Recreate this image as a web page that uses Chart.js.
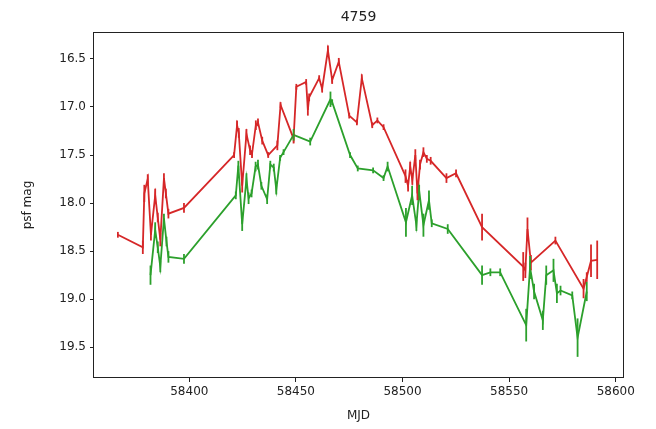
<!DOCTYPE html>
<html>
<head>
<meta charset="utf-8">
<script src="https://cdn.jsdelivr.net/npm/chart.js@4/dist/chart.umd.min.js"></script>
<style>
  html, body { margin: 0; padding: 0; background: #fff; }
  #wrap { width: 656px; height: 429px; }
</style>
</head>
<body>
<div id="wrap"><canvas id="lc" width="656" height="429"></canvas></div>
<script>
// light curve of object 4759, two bands
const title = "4759";

const mjdR = [58366.5, 58378.2, 58378.9, 58380.5, 58382.0, 58384.0, 58385.2, 58386.4, 58388.1, 58389.0, 58390.2, 58397.5,
    58421.0, 58422.4, 58423.2, 58424.8, 58426.8, 58428.5, 58429.4, 58431.2, 58432.2, 58434.2, 58437.0, 58441.3, 58442.8,
    58448.9, 58450.2, 58454.8, 58455.6, 58456.2, 58460.9, 58462.3, 58465.0, 58467.0, 58470.1, 58475.0, 58478.6, 58480.9,
    58485.8, 58488.2, 58491.1, 58501.4, 58502.6, 58503.6, 58504.6, 58506.0, 58507.0, 58508.2, 58509.8, 58511.4, 58513.2,
    58520.6, 58525.1, 58537.3, 58556.6, 58557.6, 58558.6, 58560.2, 58571.7, 58584.9, 58586.4, 58588.4, 58591.3];
const magR = [18.33, 18.46, 17.90, 17.75, 18.33, 17.92, 18.15, 18.38, 17.74, 17.90, 18.11, 18.05,
    17.50, 17.19, 17.27, 17.82, 17.28, 17.45, 17.49, 17.19, 17.16, 17.35, 17.50, 17.40, 16.98,
    17.33, 16.79, 16.74, 17.03, 16.90, 16.70, 16.81, 16.41, 16.72, 16.53, 17.09, 17.16, 16.70,
    17.19, 17.14, 17.21, 17.72, 17.82, 17.62, 17.76, 17.50, 17.90, 17.60, 17.47, 17.54, 17.56,
    17.74, 17.69, 18.25, 18.66, 18.70, 18.27, 18.62, 18.39, 18.89, 18.77, 18.60, 18.59];
const errR = [0.03, 0.07, 0.09, 0.05, 0.06, 0.07, 0.05, 0.07, 0.05, 0.05, 0.05, 0.05,
    0.03, 0.05, 0.05, 0.07, 0.05, 0.05, 0.04, 0.05, 0.04, 0.04, 0.03, 0.05, 0.03,
    0.05, 0.03, 0.03, 0.06, 0.04, 0.03, 0.04, 0.05, 0.04, 0.04, 0.03, 0.03, 0.04,
    0.03, 0.03, 0.03, 0.07, 0.06, 0.05, 0.05, 0.06, 0.07, 0.05, 0.05, 0.04, 0.04,
    0.05, 0.04, 0.14, 0.15, 0.08, 0.12, 0.08, 0.04, 0.10, 0.05, 0.17, 0.20];

const mjdG = [58381.8, 58384.0, 58385.2, 58386.4, 58388.1, 58389.3, 58390.2, 58397.5,
    58421.8, 58423.0, 58424.8, 58426.8, 58427.8, 58429.2, 58431.1, 58432.2, 58433.8, 58436.5, 58438.0, 58439.6,
    58440.8, 58442.6, 58444.2, 58448.9, 58456.7, 58466.2, 58467.0, 58475.4, 58479.0, 58486.2, 58491.1, 58493.0,
    58501.6, 58504.5, 58506.5, 58507.8, 58509.8, 58512.4, 58513.7, 58521.2, 58537.3, 58541.2, 58545.8,
    58558.0, 58559.8, 58561.7, 58565.8, 58567.4, 58570.8, 58572.4, 58574.1, 58579.6, 58582.1, 58586.4];
const magG = [18.75, 18.28, 18.46, 18.66, 18.16, 18.40, 18.56, 18.58,
    17.92, 17.61, 18.22, 17.75, 17.95, 17.90, 17.62, 17.60, 17.82, 17.96, 17.60, 17.63,
    17.86, 17.53, 17.47, 17.29, 17.36, 16.92, 16.95, 17.50, 17.64, 17.66, 17.74, 17.62,
    18.20, 17.92, 18.23, 17.87, 18.23, 17.97, 18.21, 18.27, 18.75, 18.72, 18.72,
    19.27, 18.67, 18.92, 19.22, 18.75, 18.70, 18.94, 18.91, 18.96, 19.40, 18.92];
const errG = [0.10, 0.08, 0.06, 0.06, 0.05, 0.05, 0.06, 0.05,
    0.04, 0.05, 0.07, 0.06, 0.06, 0.04, 0.05, 0.05, 0.04, 0.05, 0.04, 0.04,
    0.05, 0.03, 0.03, 0.06, 0.04, 0.08, 0.03, 0.03, 0.03, 0.03, 0.03, 0.05,
    0.15, 0.10, 0.06, 0.06, 0.12, 0.10, 0.04, 0.05, 0.10, 0.04, 0.04,
    0.17, 0.12, 0.08, 0.10, 0.10, 0.12, 0.10, 0.05, 0.04, 0.20, 0.10];

const xTicks = [58400, 58450, 58500, 58550, 58600];
const yTicks = [16.5, 17.0, 17.5, 18.0, 18.5, 19.0, 19.5];

const RED = '#d62728';
const GREEN = '#2ca02c';
const FONT = "'DejaVu Sans', sans-serif";

function pts(xs, ys) {
    return xs.map((x, i) => ({ x: x, y: ys[i] }));
}

// vertical error bars, drawn through the scales
const errorBars = {
    id: 'errorBars',
    afterDatasetsDraw(chart) {
        const ctx = chart.ctx;
        const yScale = chart.scales.y;
        const area = chart.chartArea;
        ctx.save();
        ctx.beginPath();
        ctx.rect(area.left, area.top, area.right - area.left, area.bottom - area.top);
        ctx.clip();
        // red first, green on top
        [1, 0].forEach(di => {
            const ds = chart.data.datasets[di];
            const meta = chart.getDatasetMeta(di);
            ctx.strokeStyle = ds.borderColor;
            ctx.lineWidth = 1.8;
            meta.data.forEach((pt, i) => {
                const v = ds.data[i].y;
                const e = ds.errs[i];
                ctx.beginPath();
                ctx.moveTo(pt.x, yScale.getPixelForValue(v - e));
                ctx.lineTo(pt.x, yScale.getPixelForValue(v + e));
                ctx.stroke();
            });
        });
        ctx.restore();
    }
};

// matplotlib-like frame and a title centred over the axes
const frame = {
    id: 'frame',
    afterDraw(chart) {
        const a = chart.chartArea;
        const ctx = chart.ctx;
        ctx.save();
        ctx.strokeStyle = '#222';
        ctx.lineWidth = 1;
        ctx.strokeRect(Math.round(a.left) - 0.5, Math.round(a.top) + 0.5,
            Math.round(a.right - a.left) + 1, Math.round(a.bottom - a.top) - 1);
        ctx.fillStyle = '#222';
        ctx.font = "14px " + FONT;
        ctx.textAlign = 'center';
        ctx.textBaseline = 'middle';
        ctx.fillText(title, (a.left + a.right) / 2, 17);
        ctx.restore();
    }
};

const ctx = document.getElementById('lc').getContext('2d');
new Chart(ctx, {
    type: 'line',
    data: {
        datasets: [
            { label: 'g', data: pts(mjdG, magG), errs: errG, borderColor: GREEN, borderWidth: 1.8,
              pointRadius: 0, tension: 0, fill: false },
            { label: 'r', data: pts(mjdR, magR), errs: errR, borderColor: RED, borderWidth: 1.8,
              pointRadius: 0, tension: 0, fill: false }
        ]
    },
    options: {
        responsive: false,
        animation: false,
        layout: { padding: { left: 0, right: 33, top: 32, bottom: 0 } },
        plugins: {
            legend: { display: false },
            tooltip: { enabled: false },
            title: { display: false }
        },
        scales: {
            x: {
                type: 'linear',
                min: 58355.3,
                max: 58603.4,
                afterBuildTicks: s => { s.ticks = xTicks.map(v => ({ value: v })); },
                afterFit: s => { s.height = 51; },
                grid: { display: true, drawOnChartArea: false, drawTicks: true, tickLength: 4, tickColor: '#222' },
                border: { display: false },
                ticks: {
                    color: '#222',
                    padding: 3,
                    maxRotation: 0,
                    font: { family: FONT, size: 12 },
                    callback: v => String(v)
                },
                title: {
                    display: true,
                    text: 'MJD',
                    color: '#222',
                    font: { family: FONT, size: 12 },
                    padding: { top: 0, bottom: 6 }
                }
            },
            y: {
                type: 'linear',
                reverse: true,
                min: 16.22,
                max: 19.82,
                afterBuildTicks: s => { s.ticks = yTicks.map(v => ({ value: v })); },
                afterFit: s => { s.width = 94; },
                grid: { display: true, drawOnChartArea: false, drawTicks: true, tickLength: 4, tickColor: '#222' },
                border: { display: false },
                ticks: {
                    color: '#222',
                    padding: 4,
                    font: { family: FONT, size: 12 },
                    callback: v => v.toFixed(1)
                },
                title: {
                    display: true,
                    text: 'psf mag',
                    color: '#222',
                    font: { family: FONT, size: 12 },
                    padding: { top: 21, bottom: 0 }
                }
            }
        }
    },
    plugins: [errorBars, frame]
});
</script>
</body>
</html>
